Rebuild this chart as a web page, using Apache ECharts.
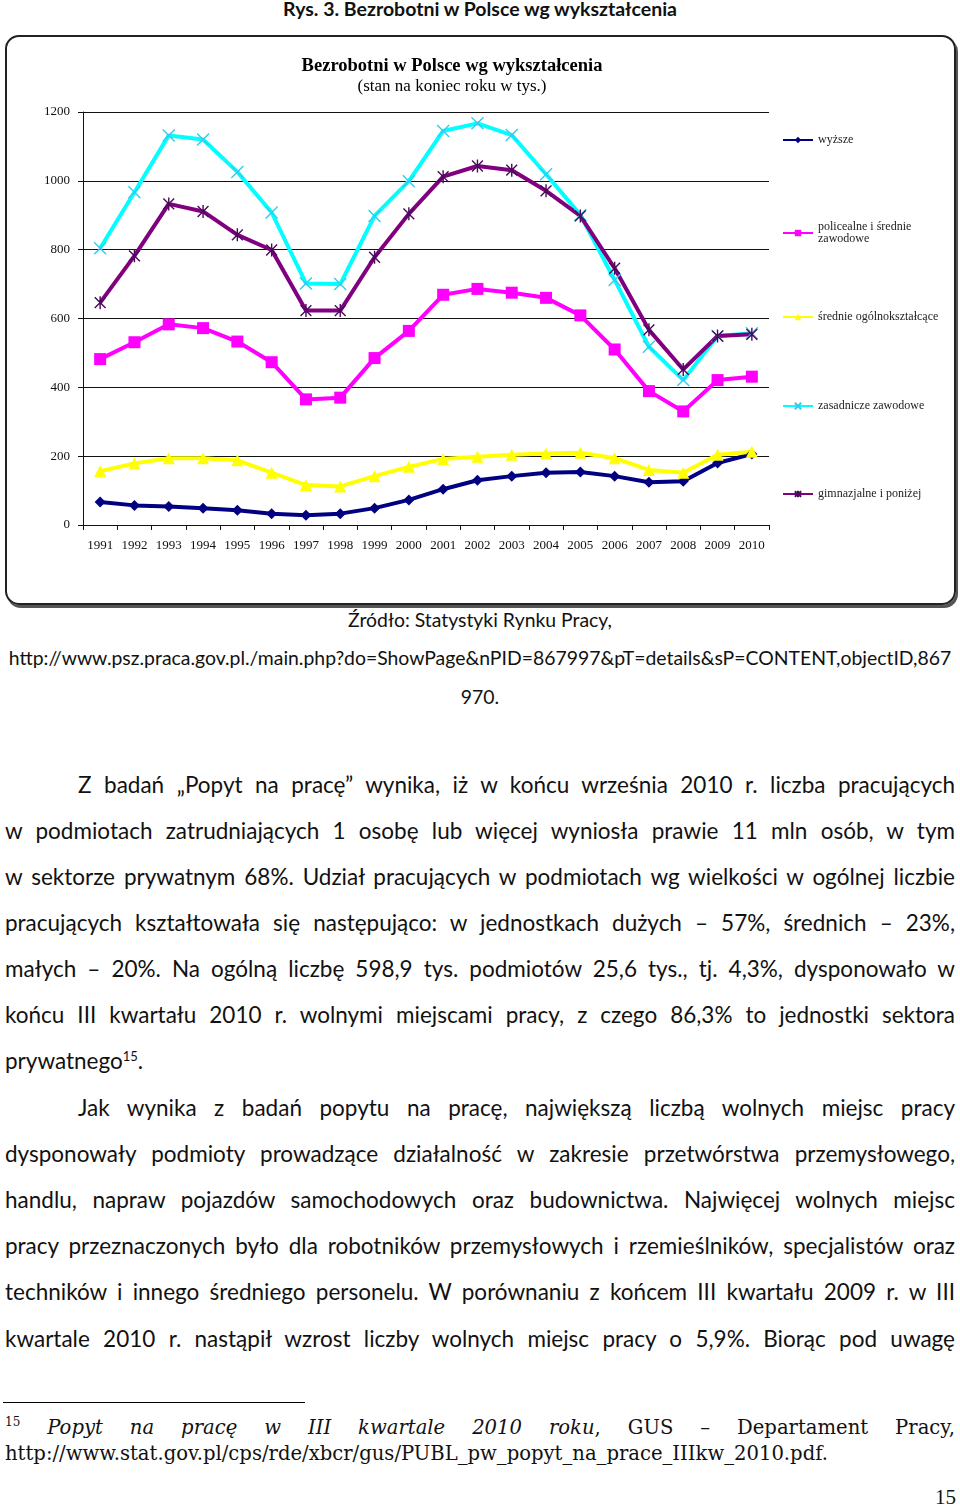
<!DOCTYPE html>
<html>
<head>
<meta charset="utf-8">
<script src="https://cdn.jsdelivr.net/npm/echarts@6/dist/echarts.min.js"></script>
<style>
  html, body { margin: 0; padding: 0; background: #fff; }
  body { width: 960px; height: 1509px; position: relative; overflow: hidden; color: #111; }
  .abs { position: absolute; }
  .head { left: 0; width: 960px; top: -4px; text-align: center; font: bold 19.5px Lato, sans-serif; line-height: 26px; }
  #box { left: 5px; top: 35px; width: 947px; height: 566px; border: 2px solid #222; border-radius: 14px; box-shadow: 2px 3px 0 #555; }
  #chart { left: 5px; top: 35px; width: 950px; height: 570px; }
  .src { left: 0; width: 960px; text-align: center; font: 19.4px Lato, sans-serif; line-height: 24px; }
  .ln { left: 5px; width: 950px; font: 22.5px Lato, sans-serif; line-height: 30px; text-align: justify; text-align-last: justify; }
  .ind { left: 78px; width: 877px; }
  .left { text-align: left; text-align-last: left; }
  sup { font-size: 13px; line-height: 0; }
  .fn { left: 5px; width: 950px; font: 19.6px "DejaVu Serif", serif; line-height: 26px; text-align: justify; text-align-last: justify; }
  .sep { left: 3px; top: 1402px; width: 302px; height: 0; border-top: 1px solid #000; }
</style>
</head>
<body>
<div class="abs head">Rys. 3. Bezrobotni w Polsce wg wykształcenia</div>
<div id="box" class="abs"></div>
<div id="chart" class="abs"></div>

<div class="abs src" style="top:608px">Źródło: Statystyki Rynku Pracy,</div>
<div class="abs src" style="top:646px">http://www.psz.praca.gov.pl./main.php?do=ShowPage&amp;nPID=867997&amp;pT=details&amp;sP=CONTENT,objectID,867</div>
<div class="abs src" style="top:685px">970.</div>

<div class="abs ln ind" style="top:770px">Z badań „Popyt na pracę” wynika, iż w końcu września 2010 r. liczba pracujących</div>
<div class="abs ln" style="top:816px">w podmiotach zatrudniających 1 osobę lub więcej wyniosła prawie 11 mln osób, w tym</div>
<div class="abs ln" style="top:862px">w sektorze prywatnym 68%. Udział pracujących w podmiotach wg wielkości w ogólnej liczbie</div>
<div class="abs ln" style="top:908px">pracujących kształtowała się następująco: w jednostkach dużych – 57%, średnich – 23%,</div>
<div class="abs ln" style="top:954px">małych – 20%. Na ogólną liczbę 598,9 tys. podmiotów 25,6 tys., tj. 4,3%, dysponowało w</div>
<div class="abs ln" style="top:1000px">końcu III kwartału 2010 r. wolnymi miejscami pracy, z czego 86,3% to jednostki sektora</div>
<div class="abs ln left" style="top:1046px">prywatnego<sup>15</sup>.</div>

<div class="abs ln ind" style="top:1093px">Jak wynika z badań popytu na pracę, największą liczbą wolnych miejsc pracy</div>
<div class="abs ln" style="top:1139px">dysponowały podmioty prowadzące działalność w zakresie przetwórstwa przemysłowego,</div>
<div class="abs ln" style="top:1185px">handlu, napraw pojazdów samochodowych oraz budownictwa. Najwięcej wolnych miejsc</div>
<div class="abs ln" style="top:1231px">pracy przeznaczonych było dla robotników przemysłowych i rzemieślników, specjalistów oraz</div>
<div class="abs ln" style="top:1277px">techników i innego średniego personelu. W porównaniu z końcem III kwartału 2009 r. w III</div>
<div class="abs ln" style="top:1324px">kwartale 2010 r. nastąpił wzrost liczby wolnych miejsc pracy o 5,9%. Biorąc pod uwagę</div>

<div class="abs sep"></div>
<div class="abs fn" style="top:1415px"><sup style="font-size:12px">15</sup> <i>Popyt na pracę w III kwartale 2010 roku</i>, GUS – Departament Pracy,</div>
<div class="abs fn left" style="top:1441px">http://www.stat.gov.pl/cps/rde/xbcr/gus/PUBL_pw_popyt_na_prace_IIIkw_2010.pdf.</div>
<div class="abs" style="left:920px; top:1484px; width:36px; text-align:right; font:21px 'Liberation Serif', serif; line-height:26px;">15</div>

<script>
const years = ['1991', '1992', '1993', '1994', '1995', '1996', '1997', '1998', '1999', '2000',
  '2001', '2002', '2003', '2004', '2005', '2006', '2007', '2008', '2009', '2010'];
const seriesNames = ['wyższe', 'policealne i średnie zawodowe', 'średnie ogólnokształcące', 'zasadnicze zawodowe', 'gimnazjalne i poniżej'];
const wyzsze = [67, 57, 54, 49, 43, 33, 28, 33, 49, 73, 104, 130, 142, 152, 154, 142, 124, 127, 180, 206];
const policealne = [482, 531, 583, 572, 533, 473, 365, 370, 485, 564, 669, 686, 675, 660, 609, 510, 389, 330, 421, 431];
const srednieOgolne = [156, 179, 194, 194, 188, 152, 116, 112, 142, 169, 192, 198, 204, 208, 210, 194, 160, 152, 204, 213];
const zasadnicze = [804, 967, 1132, 1120, 1026, 908, 702, 700, 898, 999, 1145, 1167, 1133, 1019, 901, 712, 518, 421, 549, 557];
const gimnazjalne = [646, 782, 933, 911, 843, 799, 623, 623, 778, 904, 1012, 1043, 1031, 971, 898, 746, 567, 452, 549, 554];

const chart = echarts.init(document.getElementById('chart'));

const serif = '"Liberation Serif", "DejaVu Serif", serif';
const crossPath = 'path://M0,0L10,10M10,0L0,10';
const starPath = 'path://M0,0L10,10M10,0L0,10M5,-1L5,11';

function lineSeries(name, data, color, symbol, size, markColor) {
  return {
    name: name,
    type: 'line',
    data: data,
    symbol: symbol,
    symbolSize: size,
    symbolKeepAspect: true,
    lineStyle: { color: color, width: 4 },
    itemStyle: markColor
      ? { color: markColor, borderColor: markColor, borderWidth: 1.4 }
      : { color: color },
    emphasis: { disabled: true },
    z: 2
  };
}

// each legend entry placed on its own, like the Excel legend
const legendTops = [99, 180, 276, 365, 453];
const legends = seriesNames.map((n, i) => ({
  data: [n],
  orient: 'vertical',
  left: 777,
  top: legendTops[i],
  padding: 0,
  itemWidth: 30,
  itemHeight: 8,
  formatter: name => name === 'policealne i średnie zawodowe' ? 'policealne i średnie\nzawodowe' : name,
  textStyle: i === 1
    ? { fontFamily: serif, fontSize: 12, color: '#222', lineHeight: 12, padding: [12, 0, 0, 0] }
    : { fontFamily: serif, fontSize: 12, color: '#222' }
}));

chart.setOption({
  animation: false,
  backgroundColor: 'transparent',
  title: {
    text: 'Bezrobotni w Polsce wg wykształcenia',
    subtext: '(stan na koniec roku w tys.)',
    left: 442,
    top: 17,
    textAlign: 'center',
    itemGap: 2,
    textStyle: { fontFamily: serif, fontSize: 18.5, fontWeight: 'bold', color: '#000' },
    subtextStyle: { fontFamily: serif, fontSize: 17, color: '#000' }
  },
  legend: legends,
  grid: { left: 78, right: 186, top: 77, bottom: 80 },
  xAxis: {
    type: 'category',
    data: years,
    boundaryGap: true,
    axisLine: { lineStyle: { color: '#111', width: 1 } },
    axisTick: { show: true, interval: 0, length: 5, lineStyle: { color: '#111' } },
    axisLabel: { fontFamily: serif, fontSize: 13, color: '#111', margin: 14, interval: 0 }
  },
  yAxis: {
    type: 'value',
    min: 0,
    max: 1200,
    interval: 200,
    axisLine: { show: true, lineStyle: { color: '#111', width: 1 } },
    axisTick: { show: true, length: 5, lineStyle: { color: '#111' } },
    axisLabel: { fontFamily: serif, fontSize: 13, color: '#111', margin: 13, formatter: v => String(v) },
    splitLine: { lineStyle: { color: '#111', width: 1 } }
  },
  series: [
    lineSeries(seriesNames[0], wyzsze, '#000080', 'diamond', 11),
    lineSeries(seriesNames[1], policealne, '#ff00ff', 'rect', 12),
    lineSeries(seriesNames[2], srednieOgolne, '#ffff00', 'triangle', 12),
    lineSeries(seriesNames[3], zasadnicze, '#00ffff', crossPath, 12, '#33ccee'),
    lineSeries(seriesNames[4], gimnazjalne, '#800080', starPath, 13, '#4a0a5a')
  ]
});
</script>
</body>
</html>
